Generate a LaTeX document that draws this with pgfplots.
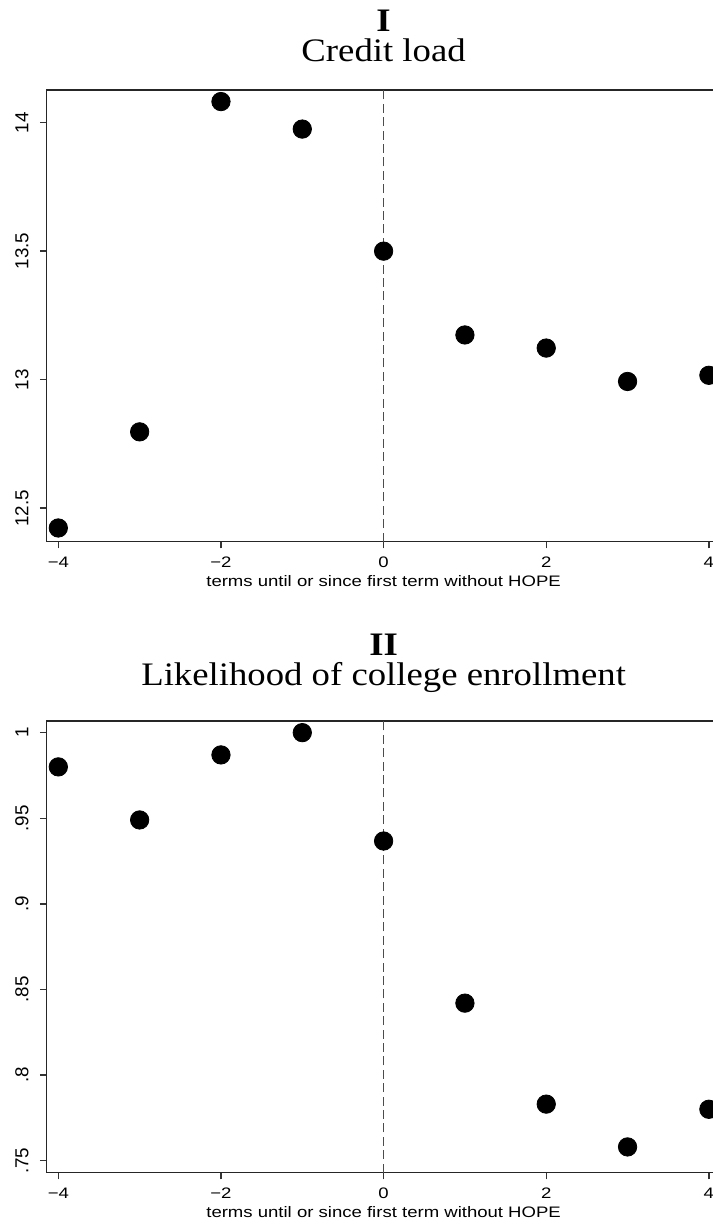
\documentclass[border=0pt]{standalone}
\usepackage{pgfplots}
\pgfplotsset{compat=1.18}
\usepackage{fontspec}
\setmainfont{Liberation Serif}
\newfontfamily\titlefont{Liberation Serif}[FakeStretch=1.12]
\newfontfamily\lblfont{Liberation Sans}[FakeStretch=1.22]
\newfontfamily\yfont{Liberation Sans}
\pgfplotsset{
  hopestyle/.style={
    scale only axis,
    width=336.9pt, height=225.8pt,
    xmin=-4.143, xmax=4.143,
    axis line style={black!85, line width=0.8pt},
    xtick={-4,-2,0,2,4},
    xticklabels={−4,−2,0,2,4},
    xtick pos=bottom, ytick pos=left,
    tick align=outside,
    major tick length=3.4pt,
    every tick/.style={black!80, line width=0.7pt},
    xticklabel style={font=\lblfont\fontsize{7.6}{9}\selectfont, inner sep=0pt, yshift=-4pt},
    yticklabel style={font=\yfont\fontsize{9.4}{10}\selectfont, xshift=-5.5pt, rotate=90, anchor=south, inner sep=0pt},
    xlabel={terms until or since first term without HOPE},
    xlabel style={font=\lblfont\fontsize{7.6}{9}\selectfont, inner sep=0pt, yshift=-4pt},
    title style={font=\titlefont\fontsize{16.4}{17}\selectfont, align=center, inner sep=0pt, yshift=8pt},
    clip=false,
  },
  dots/.style={only marks, mark=*, mark size=4.6pt, black},
  vline/.style={black!70, line width=0.8pt, dash pattern=on 4.5pt off 2.2pt},
}
\begin{document}
\begin{tikzpicture}
\begin{axis}[hopestyle, at={(23.35pt,-45pt)}, anchor=north west,
  ymin=12.37, ymax=14.127,
  ytick={12.5,13,13.5,14},
  yticklabels={12.5,13,13.5,14},
  title={\textbf{I}\\[-2pt]Credit load}]
\addplot[vline] coordinates {(0,12.37) (0,14.127)};
\addplot[dots] coordinates {
(-4,12.423) (-3,12.797) (-2,14.082) (-1,13.975) (0,13.500)
(1,13.174) (2,13.123) (3,12.993) (4,13.017)};
\end{axis}
\begin{axis}[hopestyle, at={(23.35pt,-360.5pt)}, anchor=north west,
  ymin=0.743, ymax=1.0068,
  ytick={0.75,0.8,0.85,0.9,0.95,1},
  yticklabels={.75,.8,.85,.9,.95,1},
  title={\textbf{II}\\[-2pt]Likelihood of college enrollment}]
\addplot[vline] coordinates {(0,0.743) (0,1.0068)};
\addplot[dots] coordinates {
(-4,0.980) (-3,0.949) (-2,0.987) (-1,1.000) (0,0.9367)
(1,0.842) (2,0.783) (3,0.758) (4,0.780)};
\end{axis}
\pgfresetboundingbox
\useasboundingbox (0,0) rectangle (356pt,-612pt);
\end{tikzpicture}
\end{document}
